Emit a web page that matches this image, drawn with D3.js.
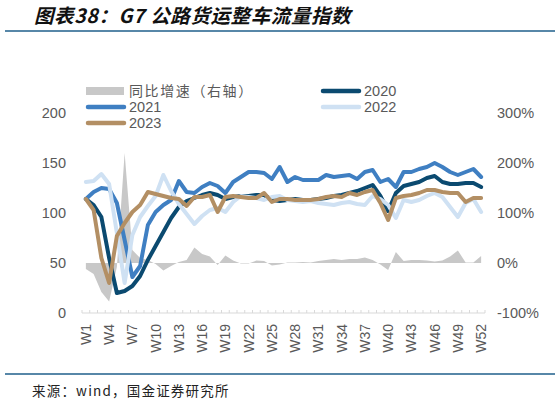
<!DOCTYPE html>
<html>
<head>
<meta charset="utf-8">
<script src="https://cdn.jsdelivr.net/npm/d3@7/dist/d3.min.js"></script>
<style>
  html, body { margin: 0; padding: 0; background: #fff; }
  svg { display: block; }
</style>
</head>
<body>
<svg id="chart" width="559" height="403"></svg>
<script>
// ---------- DATA ----------
const weeks = ["W1","W2","W3","W4","W5","W6","W7","W8","W9","W10","W11","W12","W13","W14","W15","W16","W17","W18","W19","W20","W21","W22","W23","W24","W25","W26","W27","W28","W29","W30","W31","W32","W33","W34","W35","W36","W37","W38","W39","W40","W41","W42","W43","W44","W45","W46","W47","W48","W49","W50","W51","W52"];
const tickLabels = ["W1","W4","W7","W10","W13","W16","W19","W22","W25","W28","W31","W34","W37","W40","W43","W46","W49","W52"];
const leftTicks = [0, 50, 100, 150, 200];
const rightTicks = [-100, 0, 100, 200, 300];

const s2020 = [114,108,96,55,20,22,27,37,53,67,81,95,106,112,115,118,120,118,114,116,117,117,118,118,113,112,113,114,113,113,114,115,117,118,120,122,125,128,117,102,120,127,129,131,135,137,131,129,129,130,130,126];
const s2021 = [114,121,125,124,110,73,36,47,88,101,108,113,132,121,120,126,130,127,120,131,136,141,141,140,134,146,131,136,133,133,133,138,136,137,138,134,141,143,131,134,126,141,141,144,146,150,146,141,138,141,144,136];
const s2022 = [131,132,139,129,80,30,78,96,107,117,138,122,109,99,89,97,103,105,101,111,117,116,115,113,116,117,113,112,111,112,110,109,108,110,111,109,108,117,114,108,95,113,111,113,117,120,116,106,96,110,114,101];
const s2023 = [114,103,55,30,77,90,101,108,121,119,117,115,114,107,116,116,118,101,116,117,116,115,115,120,111,114,114,113,113,113,114,116,117,116,120,118,121,123,110,93,115,117,118,120,123,123,121,120,120,111,115,115];
const yoy = [-12,-22,-58,-77,-8,220,26,10,6,-2,-15,-6,2,6,31,18,13,-4,15,5,-1,-1,5,4,-5,-3,1,1,2,1,4,6,8,6,8,8,11,6,-3,-14,22,4,6,6,5,3,5,13,25,1,1,14];

const seriesNames = ["2020","2021","2022","2023"];
const seriesData = [s2020, s2021, s2022, s2023];
const seriesColors = ["#0b4a70","#3f7fc2","#cfe1f3","#b38f64"];
const yoyName = "同比增速（右轴）";
const yoyColor = "#c8c8c8";

// ---------- LAYOUT ----------
const svg = d3.select("#chart");
svg.append("rect").attr("width",559).attr("height",403).attr("fill","#fff");

const x = d3.scaleBand().domain(weeks).range([82, 485]).padding(0);
const cx = w => x(w) + x.bandwidth()/2;
const yL = d3.scaleLinear().domain([0,200]).range([313,113]);
const yR = d3.scaleLinear().domain([-100,300]).range([313,113]);

const textColor = "#595959";
const fontNum = "'Liberation Sans', Arial, sans-serif";

// Title
svg.append("text")
  .attr("x", 34).attr("y", 23)
  .attr("font-family", "'Noto Sans CJK SC', sans-serif")
  .attr("font-size", 19.5).attr("font-weight", "bold").attr("font-style", "italic")
  .attr("letter-spacing", 0.6)
  .attr("fill", "#111")
  .text("图表38：G7 公路货运整车流量指数");
svg.append("line").attr("x1",5).attr("x2",555).attr("y1",31).attr("y2",31)
  .attr("stroke","#1f5f8b").attr("stroke-width",1.6);

// Bottom line + source
svg.append("line").attr("x1",5).attr("x2",555).attr("y1",374).attr("y2",374)
  .attr("stroke","#1f5f8b").attr("stroke-width",1.6);
svg.append("text")
  .attr("x", 32).attr("y", 396)
  .attr("font-family", "'Noto Sans CJK SC', sans-serif")
  .attr("font-size", 13.5).attr("letter-spacing", 1.2).attr("fill", "#222")
  .text("来源：wind，国金证券研究所");

// YoY area (right axis)
const area = d3.area()
  .x((d,i) => cx(weeks[i]))
  .y0(yR(0))
  .y1(d => yR(d));
svg.append("path").datum(yoy)
  .attr("d", area)
  .attr("fill", yoyColor);

// Lines
const line = d3.line().x((d,i) => cx(weeks[i])).y(d => yL(d));
seriesData.forEach((s, k) => {
  svg.append("path").datum(s)
    .attr("d", line)
    .attr("fill", "none")
    .attr("stroke", seriesColors[k])
    .attr("stroke-width", 4)
    .attr("stroke-linejoin", "round")
    .attr("stroke-linecap", "round");
});

// X axis
const xAxisG = svg.append("g");
xAxisG.append("line").attr("x1", x.range()[0]).attr("x2", x.range()[1])
  .attr("y1", yL(0)).attr("y2", yL(0)).attr("stroke", "#d9d9d9").attr("stroke-width", 1);
const boundaries = weeks.map(w => x(w)).concat([x.range()[1]]);
xAxisG.selectAll("line.tick").data(boundaries).enter().append("line")
  .attr("class","tick")
  .attr("x1", d => d).attr("x2", d => d)
  .attr("y1", yL(0)).attr("y2", yL(0) - 3)
  .attr("stroke", "#d9d9d9").attr("stroke-width", 1);
xAxisG.selectAll("text").data(tickLabels).enter().append("text")
  .attr("transform", d => `translate(${cx(d)},${yL(0)+11}) rotate(-90)`)
  .attr("text-anchor", "end")
  .attr("dy", "0.35em")
  .attr("font-family", fontNum).attr("font-size", 14)
  .attr("fill", textColor)
  .text(d => d);

// Left axis
const leftAxis = d3.axisLeft(yL).tickValues(leftTicks).tickSize(0).tickPadding(6);
const gL = svg.append("g").attr("transform", "translate(72,0)").call(leftAxis);
gL.select(".domain").remove();
gL.selectAll("text").attr("font-family", fontNum).attr("font-size", 14.5).attr("fill", textColor);

// Right axis
const rightAxis = d3.axisRight(yR).tickValues(rightTicks).tickSize(0).tickPadding(6).tickFormat(d => d + "%");
const gR = svg.append("g").attr("transform", "translate(491,0)").call(rightAxis);
gR.select(".domain").remove();
gR.selectAll("text").attr("font-family", fontNum).attr("font-size", 14.5).attr("fill", textColor);

// Legend
const legend = svg.append("g");
const legendItems = [
  {name: yoyName, type: "area", color: yoyColor, col: 0, row: 0},
  {name: seriesNames[0], type: "line", color: seriesColors[0], col: 1, row: 0},
  {name: seriesNames[1], type: "line", color: seriesColors[1], col: 0, row: 1},
  {name: seriesNames[2], type: "line", color: seriesColors[2], col: 1, row: 1},
  {name: seriesNames[3], type: "line", color: seriesColors[3], col: 0, row: 2}
];
const colX = [86, 321];
const rowY = [91, 107, 123];
legendItems.forEach(it => {
  const lx = colX[it.col], ly = rowY[it.row];
  if (it.type === "area") {
    legend.append("rect").attr("x", lx).attr("y", ly - 4).attr("width", 38).attr("height", 8).attr("fill", it.color);
  } else {
    legend.append("line").attr("x1", lx + 2).attr("x2", lx + 38).attr("y1", ly).attr("y2", ly)
      .attr("stroke", it.color).attr("stroke-width", 4.5).attr("stroke-linecap", "round");
  }
  const t = legend.append("text").attr("x", lx + 43).attr("y", ly).attr("dy", "0.35em")
    .attr("font-family", it.type === "area" ? "'Noto Sans CJK SC', sans-serif" : fontNum)
    .attr("font-size", it.type === "area" ? 14 : 14.5).attr("fill", textColor)
    .text(it.name);
  if (it.type === "area") t.attr("letter-spacing", 1.6);
});
</script>
</body>
</html>
